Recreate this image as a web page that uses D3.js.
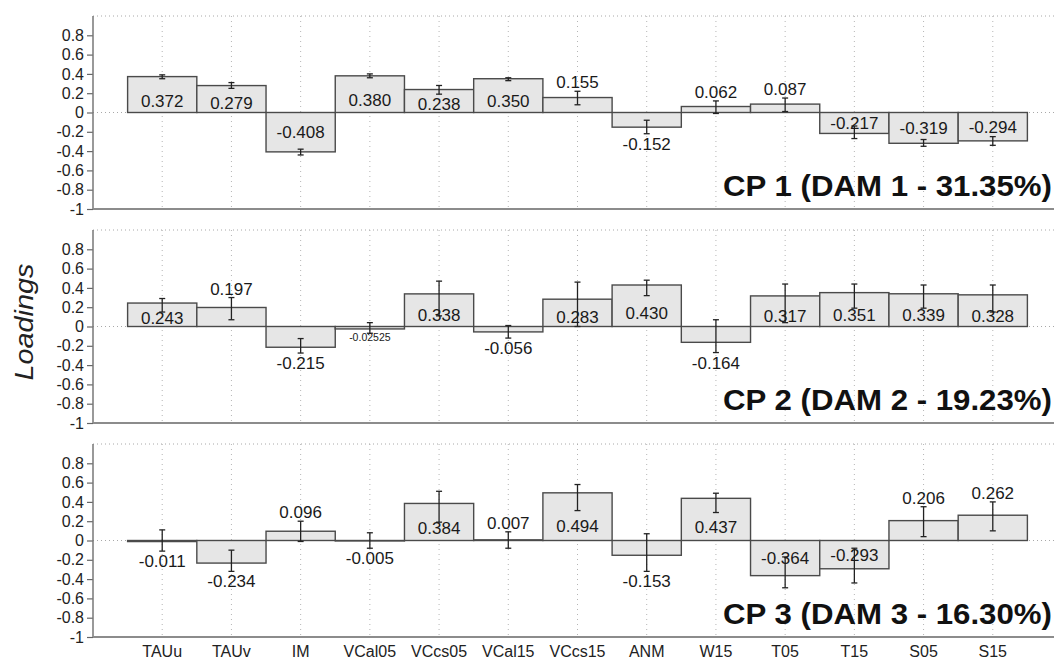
<!DOCTYPE html>
<html>
<head>
<meta charset="utf-8">
<script src="https://cdn.jsdelivr.net/npm/d3@7"></script>
<style>
  html, body { margin: 0; padding: 0; background: #fff; }
  svg { display: block; font-family: "Liberation Sans", Arial, sans-serif; }
</style>
</head>
<body>
<svg id="chart" width="1054" height="661"></svg>
<script>
// Variables on the x axis
const categories = ["TAUu", "TAUv", "IM", "VCal05", "VCcs05", "VCal15", "VCcs15", "ANM", "W15", "T05", "T15", "S05", "S15"];

// Component titles
const componentTitles = ["CP 1 (DAM 1 - 31.35%)", "CP 2 (DAM 2 - 19.23%)", "CP 3 (DAM 3 - 16.30%)"];

// Loadings with lower / upper interval bounds, one set per component
const cp1Loadings = [0.372, 0.279, -0.408, 0.380, 0.238, 0.350, 0.155, -0.152, 0.062, 0.087, -0.217, -0.319, -0.294];
const cp1Lower    = [0.35, 0.25, -0.44, 0.36, 0.19, 0.33, 0.08, -0.22, -0.01, 0.01, -0.27, -0.35, -0.34];
const cp1Upper    = [0.39, 0.31, -0.38, 0.40, 0.28, 0.36, 0.22, -0.08, 0.12, 0.15, -0.14, -0.28, -0.25];

const cp2Loadings = [0.243, 0.197, -0.215, -0.02525, 0.338, -0.056, 0.283, 0.430, -0.164, 0.317, 0.351, 0.339, 0.328];
const cp2Lower    = [0.15, 0.07, -0.275, -0.07, 0.11, -0.12, 0.00, 0.32, -0.27, 0.04, 0.19, 0.19, 0.15];
const cp2Upper    = [0.29, 0.30, -0.125, 0.04, 0.47, 0.01, 0.46, 0.48, 0.07, 0.44, 0.44, 0.43, 0.43];

const cp3Loadings = [-0.011, -0.234, 0.096, -0.005, 0.384, 0.007, 0.494, -0.153, 0.437, -0.364, -0.293, 0.206, 0.262];
const cp3Lower    = [-0.11, -0.32, -0.01, -0.08, 0.19, -0.08, 0.31, -0.32, 0.29, -0.49, -0.44, 0.04, 0.10];
const cp3Upper    = [0.11, -0.10, 0.20, 0.08, 0.51, 0.09, 0.58, 0.07, 0.49, -0.17, -0.08, 0.35, 0.40];

// Whether each value label sits inside its bar (1) or beyond the interval (0)
const cp1LabelInside = [1, 1, 1, 1, 1, 1, 0, 0, 0, 0, 1, 1, 1];
const cp2LabelInside = [1, 0, 0, 0, 1, 0, 1, 1, 0, 1, 1, 1, 1];
const cp3LabelInside = [0, 0, 0, 0, 1, 0, 1, 0, 1, 1, 1, 0, 0];

// Y ticks
const yTickValues = [-1, -0.8, -0.6, -0.4, -0.2, 0, 0.2, 0.4, 0.6, 0.8];

const components = [
  { title: componentTitles[0], values: cp1Loadings, lower: cp1Lower, upper: cp1Upper, inside: cp1LabelInside },
  { title: componentTitles[1], values: cp2Loadings, lower: cp2Lower, upper: cp2Upper, inside: cp2LabelInside },
  { title: componentTitles[2], values: cp3Loadings, lower: cp3Lower, upper: cp3Upper, inside: cp3LabelInside }
];

const svg = d3.select("#chart");
const W = 1054;
const plotLeft = 93, plotRight = 1062;
const panelTops = [16, 230, 444];
const panelHeight = 193;

const x = d3.scaleBand().domain(categories).range([plotLeft, plotRight]).paddingInner(0).paddingOuter(0.5);

function fmt(v) {
  const r = Math.round(v * 1000) / 1000;
  return r === v ? v.toFixed(3) : String(v);
}

svg.append("defs").append("clipPath").attr("id", "clip")
  .append("rect").attr("x", 0).attr("y", 0).attr("width", W).attr("height", 661);

const root = svg.append("g").attr("clip-path", "url(#clip)");

components.forEach((comp, pi) => {
  const top = panelTops[pi];
  const bottom = top + panelHeight;
  const y = d3.scaleLinear().domain([-1, 1]).range([bottom, top]);
  const g = root.append("g");
  const y0 = y(0);

  // dotted grid: vertical at each category, horizontal at 0 and top
  g.selectAll(".vgrid").data(categories).enter().append("line")
    .attr("x1", d => x(d) + x.bandwidth() / 2).attr("x2", d => x(d) + x.bandwidth() / 2)
    .attr("y1", y(1)).attr("y2", y(-1))
    .attr("stroke", "#b5b5b5").attr("stroke-width", 1).attr("stroke-dasharray", "1,4");
  [1, 0].forEach(v => {
    g.append("line").attr("x1", plotLeft).attr("x2", plotRight)
      .attr("y1", y(v)).attr("y2", y(v))
      .attr("stroke", "#a8a8a8").attr("stroke-width", 1).attr("stroke-dasharray", "1,3");
  });

  // bars
  g.selectAll(".bar").data(comp.values).enter().append("rect")
    .attr("x", (d, i) => x(categories[i]))
    .attr("width", x.bandwidth())
    .attr("y", d => Math.min(y(d), y0))
    .attr("height", d => Math.abs(y(d) - y0))
    .attr("fill", "#e6e6e6")
    .attr("stroke", "#4a4a4a")
    .attr("stroke-width", 1.4);

  // interval bars
  const eb = g.selectAll(".err").data(comp.values).enter().append("g");
  const cx = i => x(categories[i]) + x.bandwidth() / 2;
  eb.append("line")
    .attr("x1", (d, i) => cx(i)).attr("x2", (d, i) => cx(i))
    .attr("y1", (d, i) => y(comp.upper[i])).attr("y2", (d, i) => y(comp.lower[i]))
    .attr("stroke", "#222").attr("stroke-width", 1.3);
  ["upper", "lower"].forEach(k => {
    eb.append("line")
      .attr("x1", (d, i) => cx(i) - 3).attr("x2", (d, i) => cx(i) + 3)
      .attr("y1", (d, i) => y(comp[k][i])).attr("y2", (d, i) => y(comp[k][i]))
      .attr("stroke", "#222").attr("stroke-width", 1.3);
  });

  // value labels
  g.selectAll(".val").data(comp.values).enter().append("text")
    .attr("x", (d, i) => cx(i))
    .attr("y", (d, i) => {
      if (comp.inside[i]) {
        const mid = (y(d) + y0) / 2;
        return d >= 0 ? (mid + y0) / 2 + 3 : mid + 6;
      }
      if (d >= 0) return Math.min(y(d), y(comp.upper[i])) - 3;
      const small = fmt(d).length > 6;
      return Math.max(y(d), y(comp.lower[i])) + (small ? 8 : 16);
    })
    .attr("text-anchor", "middle")
    .attr("font-size", d => fmt(d).length > 6 ? 10.5 : 17)
    .attr("fill", "#1a1a1a")
    .text(d => fmt(d));

  // left axis
  const axis = d3.axisLeft(y).tickValues(yTickValues).tickSize(6).tickPadding(3)
    .tickFormat(d => d3.format("")(d).replace("−", "-"));
  const ax = g.append("g").attr("transform", `translate(${plotLeft},0)`).call(axis);
  ax.select(".domain").remove();
  ax.selectAll(".tick line").attr("stroke", "#666").attr("stroke-width", 1.2);
  ax.selectAll(".tick text").attr("font-size", 16).attr("fill", "#222")
    .attr("font-family", "'Liberation Sans', Arial, sans-serif");
  g.append("line").attr("x1", plotLeft).attr("x2", plotLeft).attr("y1", y(1)).attr("y2", y(-1))
    .attr("stroke", "#777").attr("stroke-width", 1.5);
  g.append("line").attr("x1", plotLeft).attr("x2", plotRight).attr("y1", y(-1)).attr("y2", y(-1))
    .attr("stroke", "#8c8c8c").attr("stroke-width", 2);

  // component title
  g.append("text")
    .attr("x", 1052).attr("y", bottom - 13)
    .attr("text-anchor", "end")
    .attr("font-size", 29).attr("font-weight", "bold").attr("fill", "#111")
    .attr("textLength", 329).attr("lengthAdjust", "spacingAndGlyphs")
    .text(comp.title);
});

// category labels under the last panel
const lastBottom = panelTops[2] + panelHeight;
root.selectAll(".cat").data(categories).enter().append("text")
  .attr("x", d => x(d) + x.bandwidth() / 2)
  .attr("y", lastBottom + 20)
  .attr("text-anchor", "middle")
  .attr("font-size", 16).attr("fill", "#222")
  .text(d => d);

// y axis title
svg.append("text")
  .attr("transform", "translate(33,322) rotate(-90)")
  .attr("text-anchor", "middle")
  .attr("font-size", 25).attr("font-style", "italic").attr("fill", "#222")
  .attr("textLength", 117).attr("lengthAdjust", "spacingAndGlyphs")
  .text("Loadings");
</script>
</body>
</html>
